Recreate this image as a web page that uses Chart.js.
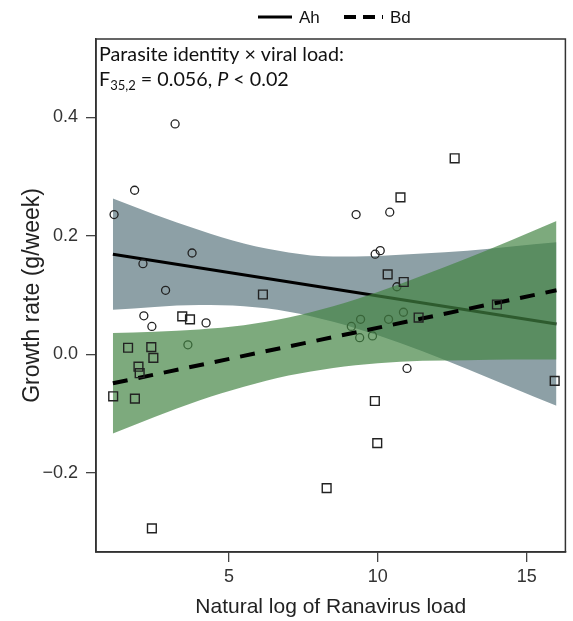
<!DOCTYPE html>
<html>
<head>
<meta charset="utf-8">
<script src="https://cdn.jsdelivr.net/npm/chart.js@4"></script>
<style>
  html, body { margin: 0; padding: 0; background: #fff; }
  #c { display: block; }
</style>
</head>
<body>
<canvas id="c" width="573" height="621"></canvas>
<script>
// axis ticks
const xTicks = [5, 10, 15];
const yTicks = [-0.2, 0, 0.2, 0.4];

// raw points: circles = Ah, squares = Bd
const ahX = [1.14, 1.83, 2.11, 2.14, 2.41, 2.87, 3.19, 3.62, 3.76, 4.23, 9.11, 9.27, 9.39, 9.42, 9.82, 9.91, 10.08, 10.36, 10.4, 10.64, 10.86, 10.98];
const ahY = [0.236, 0.277, 0.153, 0.065, 0.047, 0.108, 0.389, 0.016, 0.171, 0.053, 0.047, 0.236, 0.028, 0.059, 0.031, 0.169, 0.175, 0.059, 0.240, 0.114, 0.071, -0.024];
const bdX = [1.11, 1.61, 1.84, 1.96, 2.0, 2.39, 2.41, 2.46, 3.43, 3.69, 6.14, 8.28, 9.9, 9.98, 10.33, 10.76, 10.87, 11.37, 12.58, 14.0, 15.94];
const bdY = [-0.071, 0.011, -0.075, -0.021, -0.032, 0.012, -0.294, -0.006, 0.064, 0.059, 0.101, -0.226, -0.079, -0.150, 0.135, 0.265, 0.122, 0.062, 0.331, 0.084, -0.045];

// fitted lines (end points)
const fitX = [1.1, 16];
const ahFit = [0.169, 0.051];
const bdFit = [-0.049, 0.108];

// confidence bands
const bandX = [1.1, 2.5, 4, 5.5, 7, 8.5, 10, 11.5, 13, 14.5, 16];
const ahUpper = [0.263, 0.236, 0.210, 0.187, 0.172, 0.165, 0.166, 0.170, 0.175, 0.182, 0.189];
const ahLower = [0.075, 0.080, 0.083, 0.081, 0.072, 0.055, 0.032, 0.005, -0.025, -0.056, -0.087];
const bdUpper = [0.036, 0.038, 0.042, 0.049, 0.062, 0.081, 0.105, 0.133, 0.162, 0.193, 0.225];
const bdLower = [-0.134, -0.106, -0.078, -0.055, -0.036, -0.023, -0.015, -0.011, -0.010, -0.009, -0.009];

const pts = (xs, ys) => xs.map((x, i) => ({ x: x, y: ys[i] }));

const SANS = "'Liberation Sans', Arial, sans-serif";
const HUMAN = "Lato, 'Open Sans', sans-serif";
const GREY = "rgb(141,160,166)";
const GREEN = "rgba(67,132,67,0.69)";

const band = (ys, order, fill, color) => ({
  type: "line", data: pts(bandX, ys), order: order, showLine: true,
  borderWidth: 0, pointRadius: 0, tension: 0.4, cubicInterpolationMode: "monotone",
  fill: fill, backgroundColor: color
});

const extras = {
  id: "extras",
  afterDraw(chart) {
    const { ctx, chartArea: a } = chart;
    ctx.save();
    // frame
    ctx.strokeStyle = "#333";
    ctx.lineWidth = 1.5;
    ctx.strokeRect(a.left, a.top, a.right - a.left, a.bottom - a.top);

    // legend
    ctx.fillStyle = "#111";
    ctx.strokeStyle = "#000";
    ctx.font = "17px " + SANS;
    ctx.textBaseline = "middle";
    ctx.lineWidth = 3;
    ctx.beginPath(); ctx.moveTo(258, 17); ctx.lineTo(292, 17); ctx.stroke();
    ctx.fillText("Ah", 299, 18);
    ctx.lineWidth = 4;
    ctx.setLineDash([12, 7]);
    ctx.beginPath(); ctx.moveTo(344, 17); ctx.lineTo(383, 17); ctx.stroke();
    ctx.setLineDash([]);
    ctx.fillText("Bd", 390, 18);

    // annotation
    ctx.textBaseline = "alphabetic";
    const line1 = "Parasite identity \u00d7 viral load:";
    ctx.font = "16px " + HUMAN;
    const size = 16 * 245 / ctx.measureText(line1).width;
    ctx.font = size + "px " + HUMAN;
    ctx.fillText(line1, 99, 61);
    let x = 99;
    const part = (t, f, dy) => { ctx.font = f; ctx.fillText(t, x, 86 + dy); x += ctx.measureText(t).width; };
    part("F", size + "px " + HUMAN, 0);
    part("35,2", (size * 0.66) + "px " + HUMAN, 3.5);
    part(" = 0.056, ", size + "px " + HUMAN, 0);
    part("P", "italic " + size + "px " + HUMAN, 0);
    part(" < 0.02", size + "px " + HUMAN, 0);
    ctx.restore();
  }
};

new Chart(document.getElementById("c"), {
  type: "scatter",
  data: {
    datasets: [
      band(ahUpper, 8, "+1", GREY),
      band(ahLower, 8, false, "transparent"),
      { type: "line", data: pts(fitX, ahFit), order: 7, showLine: true, borderColor: "#000", borderWidth: 3, pointRadius: 0, fill: false },
      { data: pts(ahX, ahY), order: 6, pointStyle: "circle", pointRadius: 4, borderColor: "#222", borderWidth: 1.3, backgroundColor: "transparent" },
      band(bdUpper, 5, "+1", GREEN),
      band(bdLower, 5, false, "transparent"),
      { type: "line", data: pts(fitX, bdFit), order: 3, showLine: true, borderColor: "#000", borderWidth: 4, borderDash: [15, 11], pointRadius: 0, fill: false },
      { data: pts(bdX, bdY), order: 2, pointStyle: "rect", pointRadius: 6.2, borderColor: "#222", borderWidth: 1.4, backgroundColor: "transparent" }
    ]
  },
  options: {
    responsive: false,
    animation: false,
    devicePixelRatio: 1,
    layout: { padding: { top: 39, right: 3, left: 0, bottom: 0 } },
    plugins: { legend: { display: false }, tooltip: { enabled: false } },
    scales: {
      x: {
        type: "linear", position: "bottom", min: 0.533, max: 16.3,
        afterBuildTicks: s => { s.ticks = xTicks.map(v => ({ value: v })); },
        afterFit: s => { s.height = 69; s.paddingLeft = 0; s.paddingRight = 0; },
        grid: { drawOnChartArea: false, tickLength: 10, color: "#444", lineWidth: 1.3 },
        border: { color: "#333", width: 1.5 },
        ticks: { color: "#333", font: { family: SANS, size: 18 }, padding: 4 },
        title: { display: true, text: "Natural log of Ranavirus load", color: "#222", font: { family: SANS, size: 21 }, padding: { top: 0, bottom: 1.5 } }
      },
      y: {
        type: "linear", position: "left", min: -0.334, max: 0.5325,
        afterBuildTicks: s => { s.ticks = yTicks.map(v => ({ value: v })); },
        afterFit: s => { s.width = 96; },
        grid: { drawOnChartArea: false, tickLength: 10, color: "#444", lineWidth: 1.3 },
        border: { color: "#333", width: 1.5 },
        ticks: { color: "#333", font: { family: SANS, size: 18 }, padding: 8,
          callback: v => (v < 0 ? "\u2212" + Math.abs(v).toFixed(1) : v.toFixed(1)) },
        title: { display: true, text: "Growth rate (g/week)", color: "#222", font: { family: SANS, size: 23 }, padding: { top: 19, bottom: 0 } }
      }
    }
  },
  plugins: [extras]
});
</script>
</body>
</html>
